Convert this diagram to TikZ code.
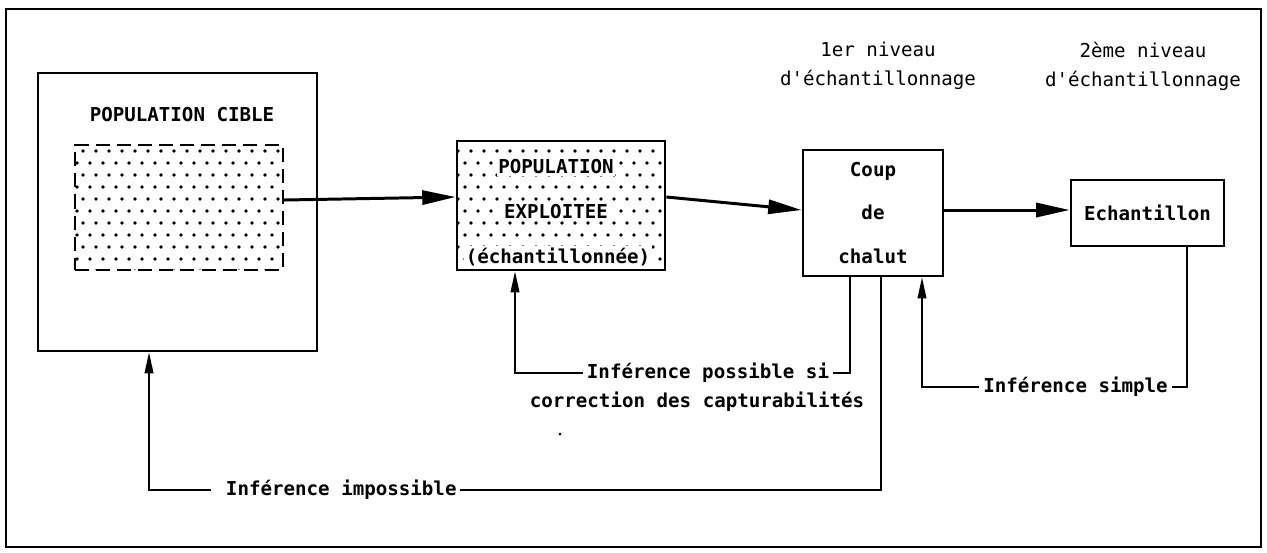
\documentclass[tikz,border=0pt]{standalone}
\usepackage{fontspec}
\setmonofont{DejaVu Sans Mono}
\usetikzlibrary{arrows.meta,positioning,patterns.meta}

\tikzdeclarepattern{
  name=stipple,
  type=uncolored,
  bounding box={(0,0) and (0.25cm,0.48cm)},
  tile size={(0.25cm,0.48cm)},
  code={
    \fill (0.0625cm,0.12cm) circle (0.038cm);
    \fill (0.1875cm,0.36cm) circle (0.038cm);
  }
}

\begin{document}
\begin{tikzpicture}[x=0.02cm, y=-0.02cm,
  box/.style={draw, line width=1.6pt, inner sep=0pt},
  lbl/.style={font=\fontsize{10.9}{25}\selectfont\ttfamily\bfseries, align=center, inner sep=2pt},
  niv/.style={font=\fontsize{10.9}{16.5}\selectfont\ttfamily, align=center},
  flow/.style={line width=1.7pt, -{Triangle[length=19pt,width=8pt]}},
  infer/.style={line width=0.9pt},
  back/.style={infer, -{Triangle[length=12pt,width=5pt]}}]
  \useasboundingbox (0,0) rectangle (1267,552);
  \draw[line width=1.4pt] (6,9) rectangle (1261,547);
  % boxes
  \node[box, minimum width=5.58cm, minimum height=5.56cm] (cible) at (177.5,212) {};
  \node[lbl] (ciblelbl) at (182,115) {POPULATION CIBLE};
  \node[draw, line width=1.2pt, dash pattern=on 8pt off 4pt, pattern=stipple,
        minimum width=4.16cm, minimum height=2.5cm, inner sep=0pt] (zone) at (179,207.5) {};
  \node[box, pattern=stipple, minimum width=4.16cm, minimum height=2.58cm] (exploit) at (561,205.5) {};
  \node[lbl, fill=white, inner sep=1pt] (pop) at (556,167) {POPULATION};
  \node[lbl, fill=white, inner sep=1pt] (expl) at (556,212) {EXPLOITEE};
  \node[lbl, fill=white, inner sep=1pt] (echlbl) at (558,257) {(échantillonnée)};
  \node[box, lbl, minimum width=2.8cm, minimum height=2.52cm] (chalut) at (873,213) {Coup\\de\\chalut};
  \node[box, lbl, minimum width=3.06cm, minimum height=1.32cm] (echant) at (1147.5,213) {Echantillon};
  % levels
  \node[niv] (niv1) at (878,66) {1er niveau\\d'échantillonnage};
  \node[niv] (niv2) at (1143,66) {2ème niveau\\d'échantillonnage};
  % inference labels
  \node[lbl] (poss) at (708,373) {Inférence possible si};
  \node[lbl] (corr) at (697,402) {correction des capturabilités};
  \node[lbl] (simple) at (1075.5,387) {Inférence simple};
  \node[lbl] (imposs) at (335.5,490) {\ Inférence impossible};
  \fill (560,434) circle (0.03cm);
  % flow
  \draw[flow] ([yshift=0.15cm]zone.east) -- ([yshift=0.17cm]exploit.west);
  \draw[flow] ([yshift=0.17cm]exploit.east) -- ([yshift=0.06cm]chalut.west);
  \draw[flow] ([yshift=0.06cm]chalut.east) -- ([yshift=0.06cm]echant.west);
  % inference
  \draw[infer] ([xshift=-0.46cm]chalut.south) |- (poss.east);
  \draw[back] (poss.west) -| ([xshift=-0.92cm]exploit.south);
  \draw[infer] ([xshift=0.16cm]chalut.south) |- (imposs.east);
  \draw[back] (imposs.west) -| ([xshift=-0.57cm]cible.south);
  \draw[infer] ([xshift=0.79cm]echant.south) |- (simple.east);
  \draw[back] (simple.west) -| ([xshift=0.98cm]chalut.south);
\end{tikzpicture}
\end{document}
